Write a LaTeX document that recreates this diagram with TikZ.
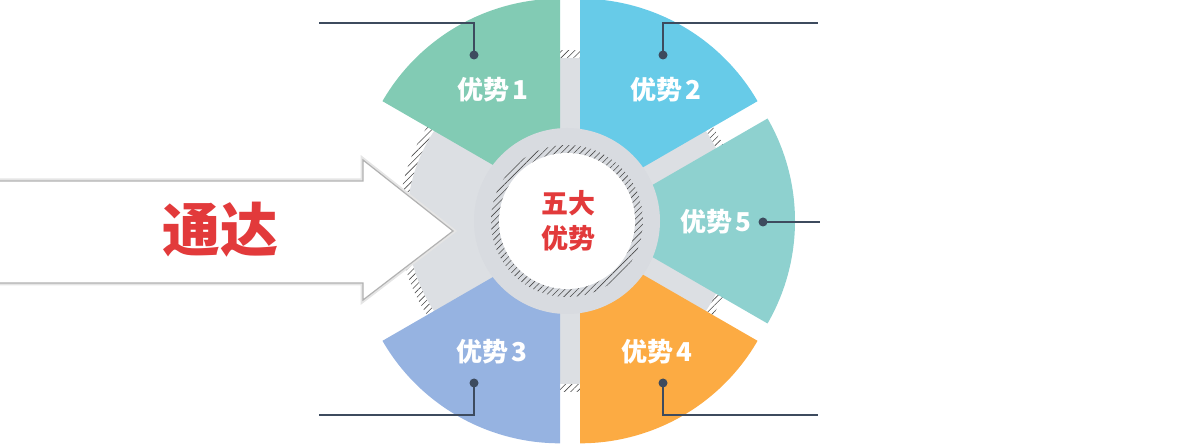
\documentclass[tikz,border=0pt]{standalone}
\usepackage{fontspec}
\newfontfamily\cjk{Noto Sans CJK SC}
\usetikzlibrary{patterns.meta,calc}
\definecolor{sone}{HTML}{82CBB4}
\definecolor{stwo}{HTML}{67CBE8}
\definecolor{sfive}{HTML}{8ED1CF}
\definecolor{sfour}{HTML}{FCAB43}
\definecolor{sthree}{HTML}{96B3E1}
\definecolor{bggray}{HTML}{DCDFE3}
\definecolor{ringgray}{HTML}{D8DBE0}
\definecolor{redtxt}{HTML}{E23A3B}
\definecolor{leader}{HTML}{3D4B5E}
\definecolor{hatch}{HTML}{4A4A4A}
\begin{document}
\begin{tikzpicture}[x=1pt,y=1pt,
  hatchfill/.style={pattern={Lines[angle=45,distance=4.5pt,line width=0.6pt]},pattern color=hatch},
  lbl/.style={text=white,font=\cjk\bfseries\fontsize{26}{26}\selectfont,inner sep=0pt},
  ctr/.style={text=redtxt,font=\cjk\bfseries\fontsize{27}{27}\selectfont,inner sep=0pt},
  dotnode/.style={circle,fill=leader,inner sep=0pt,minimum size=9pt},
  leaderline/.style={draw=leader,line width=2.2pt}]
\useasboundingbox (0,0) rectangle (1200,447);
\clip (0,0) rectangle (1200,447);
\coordinate (C) at (570,226);
\coordinate (R) at (567,226);
% outer hatched shadow and grey disc
\fill[hatchfill,even odd rule] (C) circle[radius=171] (C) circle[radius=163];
\fill[bggray] (C) circle[radius=163];
% arrow
\coordinate (a1) at (-5,266);
\coordinate (a2) at (363,266);
\coordinate (a3) at (363,287);
\coordinate (tip) at (453,216);
\coordinate (a5) at (363,147);
\coordinate (a6) at (363,164);
\coordinate (a7) at (-5,164);
\draw[black!10,line width=5pt,line join=miter] (a1)--(a2)--(a3)--(tip)--(a5)--(a6)--(a7)--cycle;
\filldraw[fill=white,draw=black!30,line width=1.2pt,line join=miter] (a1)--(a2)--(a3)--(tip)--(a5)--(a6)--(a7)--cycle;
\node[text=redtxt,font=\cjk\bfseries\fontsize{58}{58}\selectfont,inner sep=0pt] (tongda) at (220,217) {通达};
% sectors (exploded pie)
\foreach \a/\col in {90/sone,30/stwo,-30/sfive,-90/sfour,210/sthree}{
  \fill[\col] ($(C)+({\a+30}:20)$) -- ++(\a:205) arc[start angle=\a,end angle=\a+60,radius=205] -- cycle;
}
% centre ring
\fill[ringgray] (R) circle[radius=93];
\fill[hatchfill] (R) circle[radius=76];
\fill[white] (R) circle[radius=68];
\node[ctr] (wuda) at (568,244) {五大};
\node[ctr] (youshi) at (568,209) {优势};
% labels
\node[lbl] (l1) at (493,357) {优势\kern3pt1};
\node[lbl] (l2) at (666,357) {优势\kern3pt2};
\node[lbl] (l5) at (716,225) {优势\kern3pt5};
\node[lbl] (l3) at (492,95) {优势\kern3pt3};
\node[lbl] (l4) at (657,95) {优势\kern3pt4};
% leaders
\node[dotnode] (d1) at (474,392) {};
\node[dotnode] (d2) at (663,392) {};
\node[dotnode] (d5) at (763,225) {};
\node[dotnode] (d3) at (474,64) {};
\node[dotnode] (d4) at (663,64) {};
\coordinate (e1) at (319,424);
\coordinate (e2) at (818,424);
\coordinate (e5) at (820,225);
\coordinate (e3) at (319,32);
\coordinate (e4) at (818,32);
\draw[leaderline] (d1.center) |- (e1);
\draw[leaderline] (d2.center) |- (e2);
\draw[leaderline] (d5.center) -- (e5);
\draw[leaderline] (d3.center) |- (e3);
\draw[leaderline] (d4.center) |- (e4);
\end{tikzpicture}
\end{document}
